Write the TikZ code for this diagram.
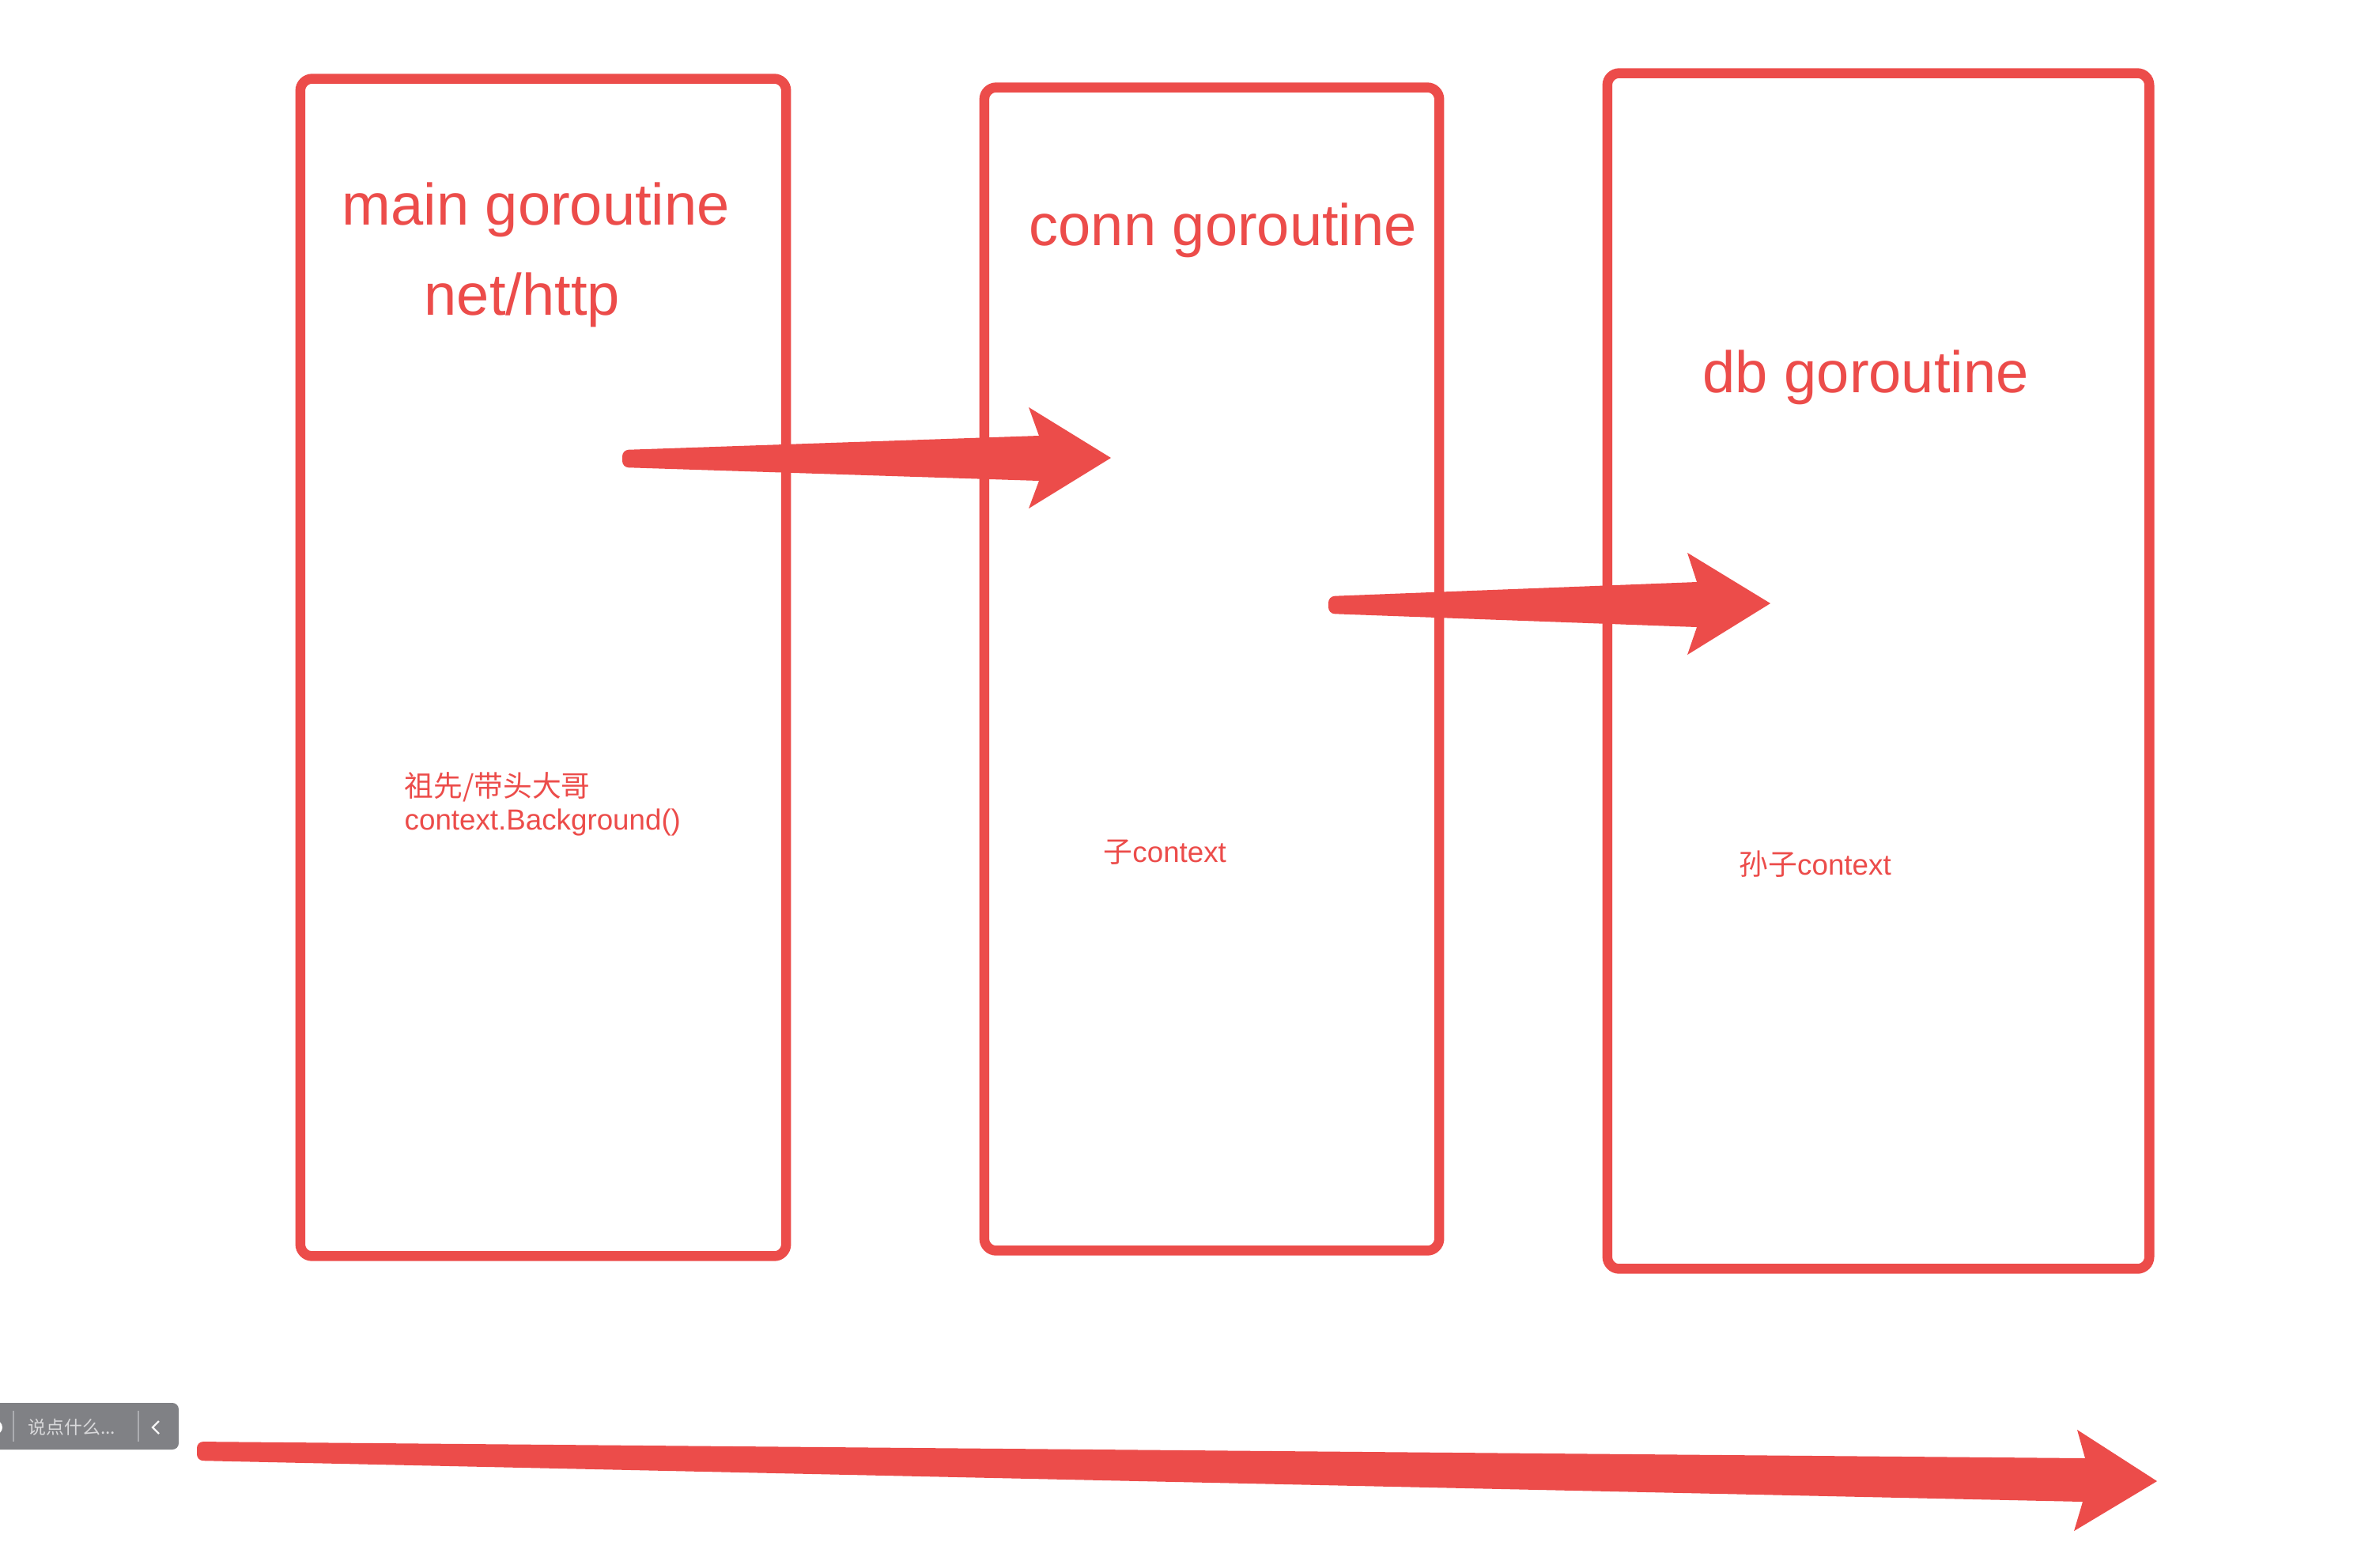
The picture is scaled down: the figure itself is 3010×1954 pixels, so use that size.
\documentclass[tikz,border=0pt]{standalone}
\usepackage{fontspec}
\setmainfont{Liberation Sans}
\newfontfamily\cjk{Noto Sans CJK SC}
\definecolor{rd}{RGB}{236,76,74}
\definecolor{wg}{RGB}{128,129,133}
\definecolor{wt}{RGB}{216,216,218}
\definecolor{ws}{RGB}{172,173,177}
\begin{document}
\begin{tikzpicture}[x=0.01cm,y=-0.01cm,
  gbox/.style={draw=rd, line width=0.125cm, rounded corners=0.15cm, inner sep=0pt, outer sep=0pt},
  big/.style={text=rd, inner sep=0pt, anchor=base west, font=\fontsize{21.07}{25}\selectfont},
  small/.style={text=rd, inner sep=0pt, anchor=base west, font=\fontsize{10.45}{12.5}\selectfont},
  fatarrow/.style={fill=rd, draw=none}]
\useasboundingbox[fill=white] (0,0) rectangle (3010,1954);

% boxes
\node[gbox, minimum width=6.14cm, minimum height=14.88cm] (box1) at (687,844) {};
\node[gbox, minimum width=5.75cm, minimum height=14.70cm] (box2) at (1532.5,846) {};
\node[gbox, minimum width=6.85cm, minimum height=15.11cm] (box3) at (2375.5,848.5) {};

% titles
\node[big] (t1) at (432,284) {main goroutine};
\node[big] (t1b) at (536,398) {net/http};
\node[big] (t2) at (1301,310) {conn goroutine};
\node[big] (t3) at (2153,496) {db goroutine};

% small labels
\node[small] (s1a) at (511,1007) {\cjk 祖先/带头大哥};
\node[small] (s1b) at (511,1049) {context.Background()};
\node[small] (s2) at (1395,1090) {{\cjk 子}context};
\node[small] (s3) at (2199,1106) {{\cjk 孙子}context};

% arrows
\coordinate (a1tail) at (787,580);
\coordinate (a1tip) at (1405,579);
\fill[fatarrow] (1314,551) -- (1301,515) -- (a1tip) -- (1301,643) -- (1314,608)
  [rounded corners=0.08cm] -- (787,591) -- (787,569) [sharp corners] -- cycle;

\coordinate (a2tail) at (1680,765);
\coordinate (a2tip) at (2239,763);
\fill[fatarrow] (2146,736) -- (2134,699) -- (a2tip) -- (2134,828) -- (2146,793)
  [rounded corners=0.08cm] -- (1680,776) -- (1680,754) [sharp corners] -- cycle;

\coordinate (a3tail) at (249,1835);
\coordinate (a3tip) at (2728,1873);
\fill[fatarrow] (2637,1844) -- (2627,1808) -- (a3tip) -- (2623,1936) -- (2634,1899)
  [rounded corners=0.08cm] -- (249,1847) -- (249,1823) [sharp corners] -- cycle;

% comment widget
\fill[wg, rounded corners=0.08cm] (-30,1774) rectangle (226,1833);
\fill[white] (-6,1805) circle[radius=0.09cm];
\draw[ws, line width=0.02cm] (17,1784) -- (17,1823);
\draw[ws, line width=0.02cm] (175,1784) -- (175,1823);
\node[text=wt, inner sep=0pt, anchor=base west, font=\fontsize{6.5}{8}\selectfont] (wtxt) at (35,1813) {\cjk 说点什么...};
\draw[white!92!gray, line width=0.022cm] (201,1797) -- (193,1805) -- (201,1813);
\end{tikzpicture}
\end{document}
